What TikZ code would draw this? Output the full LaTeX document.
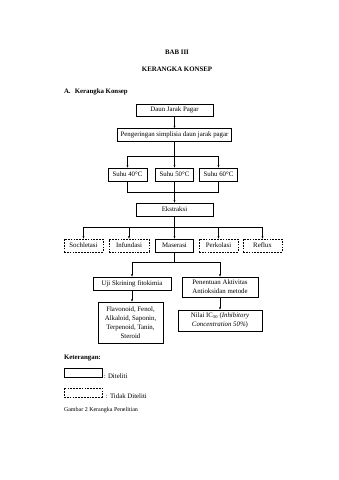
\documentclass[tikz,border=0pt]{standalone}
\usepackage{fontspec}
\setmainfont{Liberation Serif}
\usetikzlibrary{arrows.meta,calc}

\begin{document}
\begin{tikzpicture}[x=1.755pt,y=-1.755pt,
  kotak/.style={draw,line width=0.9pt,align=center,inner sep=0pt,font=\fontsize{12}{15.5}\selectfont},
  putus/.style={kotak,densely dashed},
  ukuran/.style 2 args={minimum width=#1*1.755pt,minimum height=#2*1.755pt},
  garis/.style={line width=0.8pt},
  panah/.style={garis,-{Latex[length=4pt,width=3.8pt]}},
  tulisan/.style={font=\fontsize{12}{14}\selectfont\bfseries}]

% Page
\fill[white] (0,0) rectangle (339,480);
\useasboundingbox (0,0) rectangle (339,480);

% Headings
\node[tulisan] (bab) at (177,52) {BAB III};
\node[tulisan] (judul) at (177,69) {KERANGKA KONSEP};
\node[tulisan,anchor=west] (subjudul) at (62,92) {A.\hspace{0.6em}Kerangka Konsep};

% Boxes of the flow
\node[kotak,ukuran={77}{12}] (daun) at (174.5,110) {Daun Jarak Pagar};
\node[kotak,ukuran={114}{13}] (kering) at (174.5,135) {Pengeringan simplisia daun jarak pagar};
\node[kotak,ukuran={39}{13}] (suhu40) at (127.5,174.5) {Suhu 40°C};
\node[kotak,ukuran={38}{13}] (suhu50) at (174.5,174.5) {Suhu 50°C};
\node[kotak,ukuran={38}{13}] (suhu60) at (218.5,174.5) {Suhu 60°C};
\node[kotak,ukuran={77}{13}] (ekstraksi) at (174.5,209.5) {Ekstraksi};

\node[putus,ukuran={39}{13}] (sochletasi) at (83.5,245.5) {Sochletasi};
\node[putus,ukuran={40}{13}] (infundasi) at (129,245.5) {Infundasi};
\node[kotak,ukuran={38}{13}] (maserasi) at (174.5,245.5) {Maserasi};
\node[putus,ukuran={39}{13}] (perkolasi) at (218.5,245.5) {Perkolasi};
\node[putus,ukuran={39}{13}] (reflux) at (262.5,245.5) {Reflux};

\node[kotak,ukuran={78}{13}] (uji) at (132,283.5) {Uji Skrining fitokimia};
\node[kotak,ukuran={76}{20}] (penentuan) at (220,287) {Penentuan Aktivitas\\Antioksidan metode};
\node[kotak,ukuran={65}{41}] (senyawa) at (130.5,322.5)
  {Flavonoid, Fenol,\\Alkaloid, Saponin,\\Terpenoid, Tanin,\\Steroid};
\node[kotak,ukuran={84}{21}] (nilai) at (220,320.5)
  {Nilai IC\textsubscript{50} (\textit{Inhibitory}\\\textit{Concentration 50\%})};

% Connectors
\draw[panah] (daun) -- (kering);
\draw[garis] (kering) -- ++(0,21) coordinate (c1);
\draw[garis] (suhu40 |- c1) -- (suhu60 |- c1);
\foreach \n in {suhu40,suhu50,suhu60}
  \draw[panah] (\n |- c1) -- (\n);

\draw[garis] (suhu40) -- (suhu40 |- 0,192) coordinate (c2) -- (suhu60 |- c2) -- (suhu60);
\draw[panah] (suhu50) -- (ekstraksi);

\draw[garis] (ekstraksi.south) -- ++(0,11) coordinate (c3);
\draw[garis] (sochletasi |- c3) -- (reflux |- c3);
\foreach \n in {sochletasi,infundasi,maserasi,perkolasi,reflux}
  \draw[panah] (\n |- c3) -- (\n);

\draw[garis] (maserasi.south) -- ++(0,10) coordinate (c4);
\draw[garis] (uji |- c4) -- (penentuan |- c4);
\draw[panah] (uji |- c4) -- (uji);
\draw[panah] (penentuan |- c4) -- (penentuan);

\draw[panah] (uji.south) -- (uji.south |- senyawa.north);
\draw[panah] (penentuan.south) -- (penentuan.south |- nilai.north);

% Legend
\node[tulisan,anchor=west] (keterangan) at (62,358) {Keterangan:};
\node[kotak,ukuran={38}{9}] (contoh1) at (83,372.5) {};
\node[anchor=west,font=\fontsize{12}{14}\selectfont,inner sep=0pt] (teks1) at ($(contoh1.south east)+(1.5,-1.5)$) {: Diteliti};
\node[putus,ukuran={38}{9}] (contoh2) at (83,392.5) {};
\node[anchor=west,font=\fontsize{12}{14}\selectfont,inner sep=0pt] (teks2) at ($(contoh2.south east)+(3.5,-1)$) {: Tidak Diteliti};
\node[anchor=west,font=\fontsize{10.5}{12}\selectfont] (gambar) at (62,410) {Gambar 2 Kerangka Penelitian};
\end{tikzpicture}
\end{document}
